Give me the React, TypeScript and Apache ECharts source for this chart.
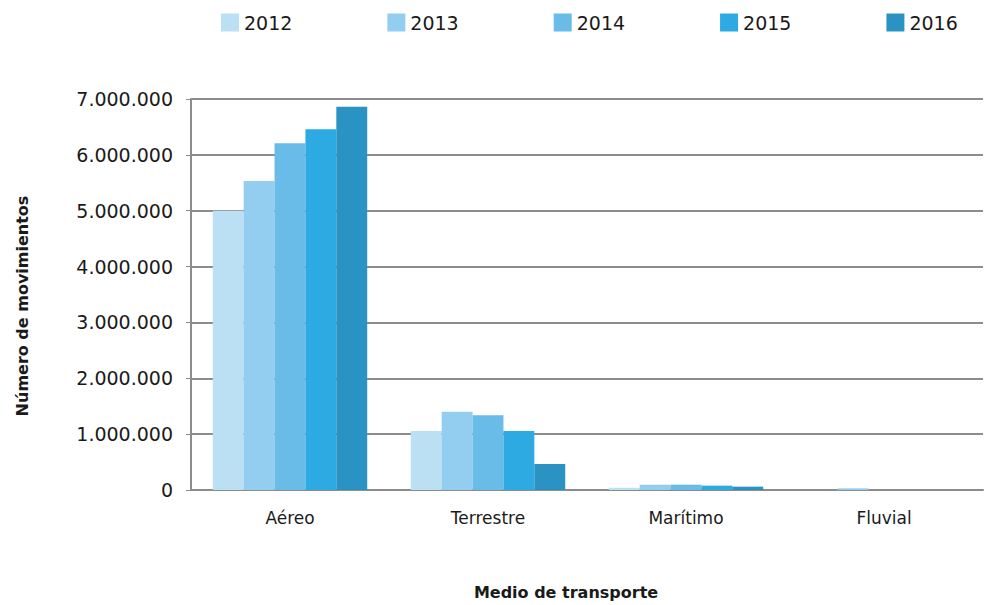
import React, { useEffect, useRef } from "react";
import * as echarts from "echarts";

const categories = ["Aéreo", "Terrestre", "Marítimo", "Fluvial"];
const years = ["2012", "2013", "2014", "2015", "2016"];
const v2012 = [5000000, 1055000, 40000, 0];
const v2013 = [5530000, 1400000, 95000, 30000];
const v2014 = [6210000, 1340000, 95000, 0];
const v2015 = [6460000, 1055000, 78000, 0];
const v2016 = [6860000, 465000, 60000, 0];
const seriesValues = [v2012, v2013, v2014, v2015, v2016];
const colors = ["#BBDFF3", "#93CDEF", "#69BBE8", "#2DAAE1", "#2A93C4"];
const yTicks = [0, 1000000, 2000000, 3000000, 4000000, 5000000, 6000000, 7000000];

const FONT = "'DejaVu Sans', sans-serif";

function fmt(v: number): string {
  return String(v).replace(/\B(?=(\d{3})+(?!\d))/g, ".");
}

export default function App() {
  const ref = useRef<HTMLDivElement>(null);
  useEffect(() => {
    if (!ref.current) return;
    const chart = echarts.init(ref.current, undefined, { renderer: "svg" });
    chart.setOption({
      animation: false,
      backgroundColor: "#ffffff",
      color: colors,
      textStyle: { fontFamily: FONT },
      legend: {
        top: 8,
        left: 216,
        itemWidth: 18,
        itemHeight: 18,
        itemGap: 95,
        icon: "rect",
        data: years,
        textStyle: { fontSize: 19, color: "#1a1a1a", fontFamily: FONT },
      },
      grid: { left: 191, right: 1, top: 99, bottom: 115, containLabel: false },
      xAxis: {
        type: "category",
        data: categories,
        axisLine: { show: true, lineStyle: { color: "#8c8c8c", width: 2 } },
        axisTick: { show: false },
        axisLabel: { fontSize: 17, color: "#1a1a1a", margin: 19, fontFamily: FONT },
      },
      yAxis: {
        type: "value",
        min: yTicks[0],
        max: yTicks[yTicks.length - 1],
        interval: 1000000,
        axisLine: { show: true, lineStyle: { color: "#8c8c8c", width: 2 } },
        axisTick: { show: true, length: 5, lineStyle: { color: "#8c8c8c", width: 1 } },
        splitLine: { show: true, lineStyle: { color: "#8c8c8c", width: 2 } },
        axisLabel: {
          fontSize: 19,
          color: "#1a1a1a",
          margin: 18,
          fontFamily: FONT,
          formatter: (v: number) => fmt(v),
        },
      },
      graphic: [
        {
          type: "text",
          x: 566,
          y: 592,
          style: {
            text: "Medio de transporte",
            fontSize: 16,
            fontWeight: "bold",
            fill: "#1a1a1a",
            fontFamily: FONT,
            textAlign: "center",
            textVerticalAlign: "middle",
          },
        },
        {
          type: "text",
          x: 22,
          y: 306,
          rotation: Math.PI / 2,
          style: {
            text: "Número de movimientos",
            fontSize: 16,
            fontWeight: "bold",
            fill: "#1a1a1a",
            fontFamily: FONT,
            textAlign: "center",
            textVerticalAlign: "middle",
          },
        },
      ],
      series: years.map((y, i) => ({
        name: y,
        type: "bar",
        data: seriesValues[i],
        barGap: "0%",
        barCategoryGap: "22%",
        itemStyle: { color: colors[i] },
      })),
    });
    return () => chart.dispose();
  }, []);
  return (
    <div
      ref={ref}
      style={{ position: "fixed", left: 0, top: 0, width: 984, height: 605 }}
    />
  );
}
